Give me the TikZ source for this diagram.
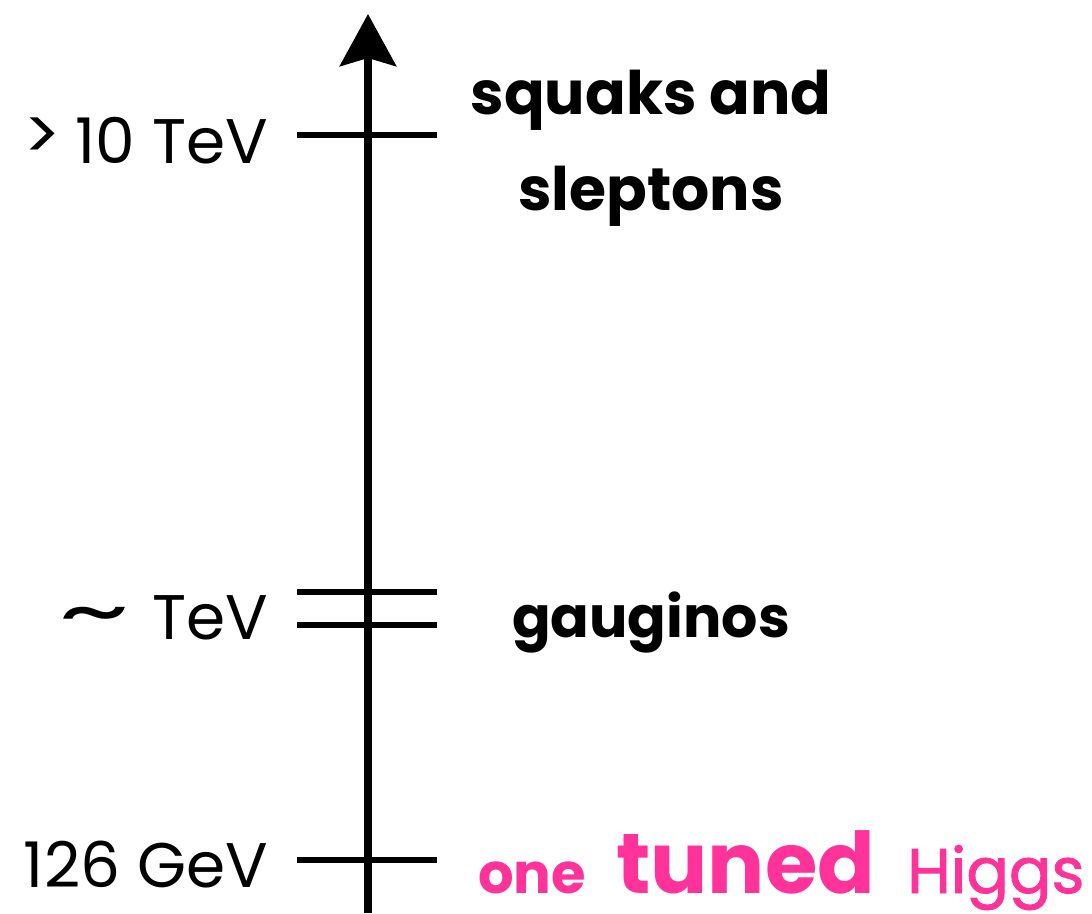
\documentclass[tikz,border=0pt]{standalone}
\usepackage{fontspec}
\setmainfont{Poppins}
\usetikzlibrary{arrows.meta}
\definecolor{hpink}{HTML}{FF3399}
\tikzset{
  tick/.style={line width=5.5pt},
  lab/.style={inner sep=0pt, anchor=east, font=\fontsize{63}{68}\selectfont},
  rlab/.style={inner sep=0pt, font=\fontsize{60}{96}\selectfont\bfseries, align=center},
}
\begin{document}
\begin{tikzpicture}[x=1pt,y=-1pt]
\useasboundingbox (0,0) rectangle (1092,913);
\coordinate (bot) at (368,913);
\coordinate (top) at (368,14);
\draw[line width=8pt, -{Stealth[length=52pt,width=56pt,inset=8pt]}] (bot) -- (top);
\coordinate (a1) at (297,135); \coordinate (a2) at (437,135);
\coordinate (b1) at (297,592); \coordinate (b2) at (437,592);
\coordinate (c1) at (297,625); \coordinate (c2) at (437,625);
\coordinate (d1) at (297,860); \coordinate (d2) at (437,860);
\draw[tick] (a1) -- (a2);
\draw[tick] (b1) -- (b2);
\draw[tick] (c1) -- (c2);
\draw[tick] (d1) -- (d2);
\node[lab] (l1) at (268,141) {\raisebox{4pt}{\fontsize{70}{70}\selectfont>}\hspace{14pt}10 TeV};
\node[lab] (l2) at (268,618) {\scalebox{2.2}[1.3]{\textasciitilde}\hspace{22pt}TeV};
\node[lab] (l3) at (268,865) {126 GeV};
\node[rlab] (r1) at (651,148) {squaks and\\sleptons};
\node[rlab, font=\fontsize{57}{96}\selectfont\bfseries] (r2) at (651,622) {gauginos};
\node[inner sep=0pt, anchor=base west, text=hpink] (r3) at (478,893) {{\fontsize{56}{60}\selectfont\bfseries one}\hspace{30pt}{\fontsize{85}{90}\selectfont\bfseries tuned}\hspace{32pt}{\fontsize{63}{68}\selectfont\addfontfeature{FakeBold=1.5}Higgs}};
\end{tikzpicture}
\end{document}
